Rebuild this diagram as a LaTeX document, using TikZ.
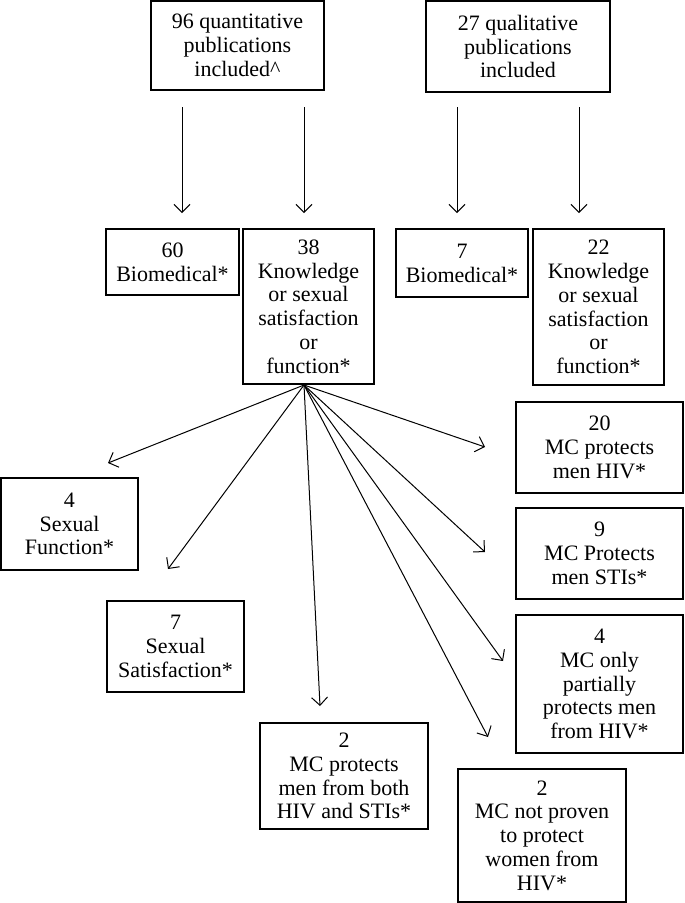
\documentclass[tikz,border=0pt]{standalone}
\usepackage{fontspec}
\setmainfont{Liberation Serif}
\usetikzlibrary{arrows.meta}
\begin{document}
\begin{tikzpicture}[x=1pt,y=-1pt,
  box/.style={draw, line width=1.2pt, align=center, inner sep=0pt,
    font=\fontsize{22}{23.8}\selectfont},
  arr/.style={line width=1pt, -{Straight Barb[length=8pt,width=16pt,line width=1pt]}}]
\useasboundingbox (0,0) rectangle (685,903);
% top row
\node[box, minimum width=173pt, minimum height=89pt] (quant) at (237.5,45.5) {96 quantitative\\publications\\included\textasciicircum};
\node[box, minimum width=184pt, minimum height=91pt] (qual) at (518,46.5) {27 qualitative\\publications\\included};
% second row
\node[box, minimum width=133pt, minimum height=66pt] (bio1) at (172.5,262) {60\\Biomedical*};
\node[box, minimum width=131pt, minimum height=155pt] (know1) at (308.5,306.5) {38\\Knowledge\\or sexual\\satisfaction\\or\\function*};
\node[box, minimum width=132pt, minimum height=68pt] (bio2) at (462,263) {7\\Biomedical*};
\node[box, minimum width=131pt, minimum height=156pt] (know2) at (598.5,307) {22\\Knowledge\\or sexual\\satisfaction\\or\\function*};
% lower boxes
\node[box, minimum width=137pt, minimum height=92pt] (sf) at (69.5,524) {4\\Sexual\\Function*};
\node[box, minimum width=137pt, minimum height=91pt] (ss) at (175.5,646.5) {7\\Sexual\\Satisfaction*};
\node[box, minimum width=168pt, minimum height=106pt] (both) at (344,776) {2\\MC protects\\men from both\\HIV and STIs*};
\node[box, minimum width=167pt, minimum height=91pt] (hiv) at (599.5,447.5) {20\\MC protects\\men HIV*};
\node[box, minimum width=167pt, minimum height=91pt] (sti) at (599.5,553.5) {9\\MC Protects\\men STIs*};
\node[box, minimum width=167pt, minimum height=138pt] (part) at (599.5,684) {4\\MC only\\partially\\protects men\\from HIV*};
\node[box, minimum width=168pt, minimum height=133pt] (women) at (542,835.5) {2\\MC not proven\\to protect\\women from\\HIV*};
% arrow end points
\coordinate (q1s) at (182,107); \coordinate (q1e) at (182,213);
\coordinate (q2s) at (304,107); \coordinate (q2e) at (304,213);
\coordinate (l1s) at (457,107); \coordinate (l1e) at (457,213);
\coordinate (l2s) at (579,107); \coordinate (l2e) at (579,213);
\coordinate (fan) at (304,385);
\coordinate (tsf) at (108,463);
\coordinate (tss) at (168,569);
\coordinate (tboth) at (320,706);
\coordinate (thiv) at (485,447);
\coordinate (tsti) at (485,552);
\coordinate (tpart) at (503,661);
\coordinate (twomen) at (488,737);
\draw[arr] (q1s) -- (q1e);
\draw[arr] (q2s) -- (q2e);
\draw[arr] (l1s) -- (l1e);
\draw[arr] (l2s) -- (l2e);
\foreach \t in {tsf,tss,tboth,thiv,tsti,tpart,twomen}
  \draw[arr] (fan) -- (\t);
\end{tikzpicture}
\end{document}
